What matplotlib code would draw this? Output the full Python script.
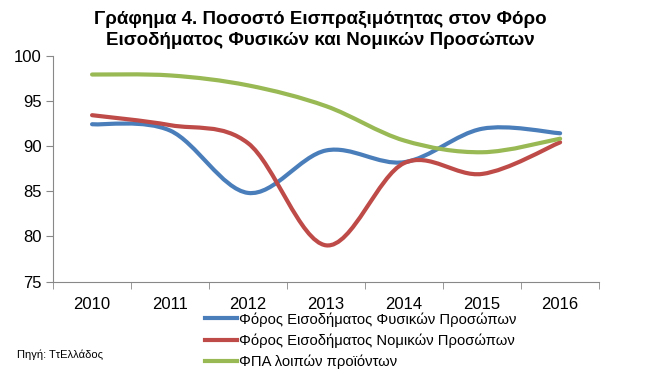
import numpy as np
import matplotlib.pyplot as plt
from matplotlib.path import Path
from matplotlib.patches import PathPatch

plt.rcParams['font.family'] = ['Liberation Sans', 'DejaVu Sans']

years = ['2010', '2011', '2012', '2013', '2014', '2015', '2016']
fysika = [92.4, 91.7, 84.8, 89.5, 88.2, 91.9, 91.4]
nomika = [93.4, 92.3, 90.3, 79.0, 88.1, 86.9, 90.4]
fpa = [97.9, 97.8, 96.7, 94.4, 90.6, 89.3, 90.8]
labels = ['Φόρος Εισοδήματος Φυσικών Προσώπων',
          'Φόρος Εισοδήματος Νομικών Προσώπων',
          'ΦΠΑ λοιπών προϊόντων']
colors = ['#4a7ebb', '#be4b48', '#98b954']


def smooth_path(x, y):
    # excel-like smoothed line: cubic bezier segments, catmull-rom control points
    x = np.asarray(x, float)
    y = np.asarray(y, float)
    n = len(x)
    verts = [(x[0], y[0])]
    codes = [Path.MOVETO]
    for i in range(n - 1):
        x0, y0 = (x[i - 1], y[i - 1]) if i > 0 else (x[i], y[i])
        x3, y3 = (x[i + 2], y[i + 2]) if i + 2 < n else (x[i + 1], y[i + 1])
        c1 = (x[i] + (x[i + 1] - x0) / 6, y[i] + (y[i + 1] - y0) / 6)
        c2 = (x[i + 1] - (x3 - x[i]) / 6, y[i + 1] - (y3 - y[i]) / 6)
        verts += [c1, c2, (x[i + 1], y[i + 1])]
        codes += [Path.CURVE4] * 3
    return Path(verts, codes)


fig = plt.figure(figsize=(6.47, 3.83), dpi=100)
ax = fig.add_axes([0.082, 0.265, 0.844, 0.59])

xs = np.arange(len(years))
handles = []
for vals, lab, col in zip([fysika, nomika, fpa], labels, colors):
    ax.add_patch(PathPatch(smooth_path(xs, vals), fill=False, edgecolor=col,
                           lw=3, capstyle='round', joinstyle='round'))
    h, = ax.plot([], [], color=col, lw=3, label=lab)
    handles.append(h)

ax.set_xlim(-0.5, len(years) - 0.5)
ax.set_ylim(75, 100)
ax.set_yticks(range(75, 101, 5))
ax.set_xticks(xs)
ax.set_xticklabels(years)
ax.set_xticks(np.arange(-0.5, len(years), 1), minor=True)
ax.tick_params(axis='x', which='major', length=0, pad=11, labelsize=12)
ax.tick_params(axis='x', which='minor', length=5, color='#888888')
ax.tick_params(axis='y', length=5, color='#888888', labelsize=12, pad=3)
for s in ['top', 'right']:
    ax.spines[s].set_visible(False)
for s in ['left', 'bottom']:
    ax.spines[s].set_color('#888888')

fig.text(0.495, 0.972, 'Γράφημα 4. Ποσοστό Εισπραξιμότητας στον Φόρο\nΕισοδήματος Φυσικών και Νομικών Προσώπων',
         ha='center', va='top', fontsize=13.5, fontweight='bold', linespacing=1.3)

fig.legend(handles=handles, loc='upper left', bbox_to_anchor=(0.317, 0.185),
           frameon=False, handlelength=2.2, handletextpad=0.1,
           labelspacing=0.45, borderaxespad=0, borderpad=0, fontsize=10.6)

fig.text(0.026, 0.073, 'Πηγή: ΤτΕλλάδος', fontsize=8, va='center')

fig.savefig('out.png', dpi=100)
